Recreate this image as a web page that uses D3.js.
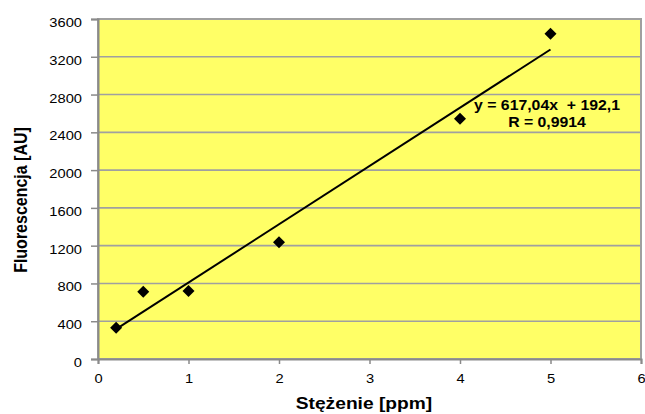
<!DOCTYPE html>
<html><head><meta charset="utf-8">
<script src="https://cdn.jsdelivr.net/npm/d3@7"></script>
<style>body{margin:0;background:#fff}text{font-family:"Liberation Sans",Arial,sans-serif}</style>
</head><body><svg id="c" width="645" height="414"></svg>
<script>
const concentrations = [0.2, 0.5, 1, 2, 4, 5];
const fluorescence = [331, 713, 720, 1236, 2544, 3444];
const trendX = [0.2, 5];
const trendY = [315.5, 3277.3];
const xTicks = [0, 1, 2, 3, 4, 5, 6];
const yTicks = [0, 400, 800, 1200, 1600, 2000, 2400, 2800, 3200, 3600];
const xTitle = "Stężenie [ppm]";
const yTitle = "Fluorescencja [AU]";
const eqLines = ["y = 617,04x  + 192,1", "R = 0,9914"];

const W = 645, H = 414;
const m = {l: 98, t: 19, r: 641, b: 359};
const sx = 1.13;
const svg = d3.select("#c");
const x = d3.scaleLinear().domain([0, 6]).range([m.l, m.r]);
const y = d3.scaleLinear().domain([0, 3600]).range([m.b, m.t]);

svg.append("rect").attr("x", m.l).attr("y", m.t).attr("width", m.r - m.l).attr("height", m.b - m.t)
  .attr("fill", "#ffff66").attr("stroke", "#a0a0a0").attr("stroke-width", 2);

svg.append("g").selectAll("line").data(yTicks.filter(d => d > 0 && d < 3600)).join("line")
  .attr("x1", m.l).attr("x2", m.r).attr("y1", d => y(d)).attr("y2", d => y(d))
  .attr("stroke", "#a0a0a0").attr("stroke-width", 1.6);

// axes
const ya = svg.append("g").attr("transform", `translate(${m.l},0)`)
  .call(d3.axisLeft(y).tickValues(yTicks).tickSize(7).tickFormat(d3.format("d")));
const xa = svg.append("g").attr("transform", `translate(0,${m.b})`)
  .call(d3.axisBottom(x).tickValues(xTicks).tickSize(5).tickFormat(d3.format("d")));
[ya, xa].forEach(g => {
  g.select(".domain").attr("stroke", "#8a8a8a").attr("stroke-width", 2);
  g.selectAll(".tick line").attr("stroke", "#8a8a8a").attr("stroke-width", 1.5);
  g.selectAll(".tick text").attr("fill", "#000").style("font-size", "13px");
});
ya.selectAll(".tick text").each(function(d) {
  const t = d3.select(this);
  t.attr("x", null).attr("dy", null).attr("text-anchor", "end")
   .attr("transform", `translate(-16,${7.5}) scale(${sx},1)`);
});
xa.selectAll(".tick text").each(function(d) {
  const t = d3.select(this);
  t.attr("y", null).attr("dy", null).attr("text-anchor", "middle")
   .attr("transform", `translate(0,24) scale(${sx},1)`);
});

// trendline
svg.append("line").attr("x1", x(trendX[0])).attr("y1", y(trendY[0]))
  .attr("x2", x(trendX[1])).attr("y2", y(trendY[1]))
  .attr("stroke", "#000").attr("stroke-width", 2);

// markers
const r = 6;
svg.append("g").selectAll("path").data(concentrations.map((c, i) => [c, fluorescence[i]])).join("path")
  .attr("d", d => `M${x(d[0])},${y(d[1]) - r}L${x(d[0]) + r},${y(d[1])}L${x(d[0])},${y(d[1]) + r}L${x(d[0]) - r},${y(d[1])}Z`)
  .attr("fill", "#000");

// equation
eqLines.forEach((t, i) => {
  svg.append("text").attr("text-anchor", "middle").style("font-size", "14px").style("font-weight", "bold")
    .style("white-space", "pre").attr("xml:space", "preserve")
    .attr("transform", `translate(547,${109.5 + i * 17.5}) scale(${sx},1)`).text(t);
});

// titles
svg.append("text").attr("text-anchor", "middle").style("font-size", "17px").style("font-weight", "bold")
  .attr("transform", `translate(364,409) scale(${sx},1)`).text(xTitle);
svg.append("text").attr("text-anchor", "middle").style("font-size", "16px").style("font-weight", "bold")
  .attr("transform", `translate(27,200) scale(${sx},1) rotate(-90)`).text(yTitle);
</script></body></html>
